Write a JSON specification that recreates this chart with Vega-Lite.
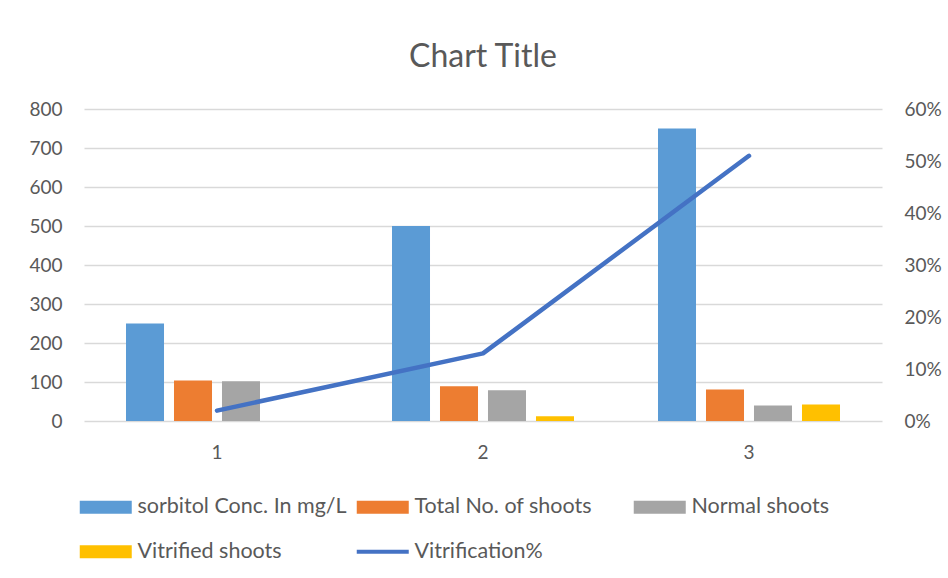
{
  "$schema": "https://vega.github.io/schema/vega-lite/v6.json",
  "width": 798,
  "height": 312,
  "autosize": {"type": "none"},
  "padding": {"left": 84, "top": 109, "right": 66, "bottom": 157},
  "background": "white",
  "title": {"text": "Chart Title", "fontSize": 32, "font": "Lato", "fontWeight": "normal", "color": "#595959", "anchor": "middle", "offset": 26},
  "config": {
    "view": {"stroke": null},
    "axis": {"labelFont": "Lato", "labelColor": "#595959", "labelFontSize": 19, "domain": false, "ticks": false, "grid": true, "gridColor": "#D9D9D9", "gridWidth": 1.3, "title": null}
  },
  "datasets": {
    "bars": [
      {"group": "1", "series": "sorbitol Conc. In mg/L", "value": 250},
      {"group": "1", "series": "Total No. of shoots", "value": 104},
      {"group": "1", "series": "Normal shoots", "value": 102},
      {"group": "1", "series": "Vitrified shoots", "value": 0},
      {"group": "2", "series": "sorbitol Conc. In mg/L", "value": 500},
      {"group": "2", "series": "Total No. of shoots", "value": 89},
      {"group": "2", "series": "Normal shoots", "value": 79},
      {"group": "2", "series": "Vitrified shoots", "value": 12},
      {"group": "3", "series": "sorbitol Conc. In mg/L", "value": 750},
      {"group": "3", "series": "Total No. of shoots", "value": 81},
      {"group": "3", "series": "Normal shoots", "value": 40},
      {"group": "3", "series": "Vitrified shoots", "value": 42}
    ],
    "line": [
      {"group": "1", "series": "Vitrification%", "pct": 0.02},
      {"group": "2", "series": "Vitrification%", "pct": 0.13},
      {"group": "3", "series": "Vitrification%", "pct": 0.51}
    ]
  },
  "layer": [
    {
      "data": {"name": "bars"},
      "mark": {"type": "bar"},
      "encoding": {
        "x": {"field": "group", "type": "nominal", "scale": {"paddingInner": 0, "paddingOuter": 0}, "axis": {"labelAngle": 0, "grid": false, "labelPadding": 22}},
        "xOffset": {"field": "series", "type": "nominal", "sort": ["sorbitol Conc. In mg/L", "Total No. of shoots", "Normal shoots", "Vitrified shoots"], "scale": {"paddingInner": 0.208, "paddingOuter": 0.875}},
        "y": {"field": "value", "type": "quantitative", "scale": {"domain": [0, 800]}, "axis": {"values": [0, 100, 200, 300, 400, 500, 600, 700, 800], "labelPadding": 22}},
        "color": {
          "field": "series", "type": "nominal",
          "scale": {"domain": ["sorbitol Conc. In mg/L", "Total No. of shoots", "Normal shoots", "Vitrified shoots", "Vitrification%"], "range": ["#5B9BD5", "#ED7D31", "#A5A5A5", "#FFC000", "#4472C4"]},
          "legend": {
            "title": null, "orient": "none", "direction": "horizontal", "legendX": 11, "legendY": 387, "columns": 3, "gridAlign": "all",
            "columnPadding": 1, "rowPadding": 22, "labelFont": "Lato", "labelFontSize": 21.5, "labelColor": "#595959",
            "labelOffset": 21, "symbolSize": 169, "labelLimit": 400,
            "encode": {
              "symbols": {
                "update": {
                  "shape": {"signal": "datum.value === 'Vitrification%' ? 'M-4,0H4' : 'M-4,-1H4V1H-4Z'"},
                  "fill": {"signal": "datum.value === 'Vitrification%' ? 'transparent' : scale('color', datum.value)"},
                  "stroke": {"signal": "scale('color', datum.value)"},
                  "strokeWidth": {"signal": "datum.value === 'Vitrification%' ? 4 : 0"},
                  "opacity": {"value": 1},
                  "fillOpacity": {"value": 1}
                }
              }
            }
          }
        }
      }
    },
    {
      "data": {"name": "line"},
      "mark": {"type": "line", "strokeWidth": 4.5, "strokeCap": "round", "strokeJoin": "round"},
      "encoding": {
        "x": {"field": "group", "type": "nominal"},
        "y": {"field": "pct", "type": "quantitative", "scale": {"domain": [0, 0.6]}, "axis": {"orient": "right", "format": ".0%", "values": [0, 0.1, 0.2, 0.3, 0.4, 0.5, 0.6], "grid": false, "labelPadding": 22}},
        "color": {"field": "series", "type": "nominal"}
      }
    }
  ],
  "resolve": {"scale": {"y": "independent"}}
}
